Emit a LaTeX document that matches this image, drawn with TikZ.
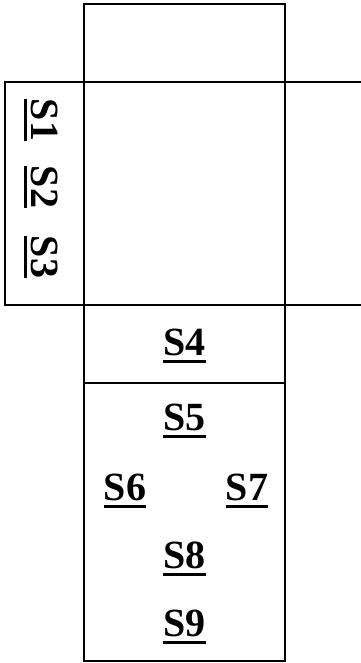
\documentclass[tikz,border=0pt]{standalone}
\usepackage{fontspec}
\setmainfont{Liberation Serif}
\newcommand{\ulabel}[1]{\setbox0=\hbox{#1}\rlap{\vrule height -4.5pt depth 7.5pt width \wd0}\box0}

\begin{document}
\begin{tikzpicture}[
  x=1pt, y=-1pt,
  box/.style={draw=black, line width=1.2pt},
  lbl/.style={font=\fontsize{40}{40}\selectfont\bfseries, inner sep=0pt, anchor=base},
  side/.style={lbl, rotate=-90},
]
\useasboundingbox (0,0) rectangle (360,663);

% boxes of the layout
\draw[box] (84,4) rectangle (285,82);
\draw[box] (5,82) rectangle (84,305);
\draw[box] (84,82) rectangle (285,305);
\draw[box] (285,82) rectangle (366,305);
\draw[box] (84,305) rectangle (285,383);
\draw[box] (84,383) rectangle (285,661);

% side labels, turned
\node[side] (s1) at (31,120) {\ulabel{S1}};
\node[side] (s2) at (31,187) {\ulabel{S2}};
\node[side] (s3) at (31,257) {\ulabel{S3}};

% labels in the lower column
\node[lbl] (s4) at (184.5,355) {\ulabel{S4}};
\node[lbl] (s5) at (184.5,430) {\ulabel{S5}};
\node[lbl] (s6) at (125,500) {\ulabel{S6}};
\node[lbl] (s7) at (247,500) {\ulabel{S7}};
\node[lbl] (s8) at (184.5,568) {\ulabel{S8}};
\node[lbl] (s9) at (184.5,636) {\ulabel{S9}};

\end{tikzpicture}
\end{document}
